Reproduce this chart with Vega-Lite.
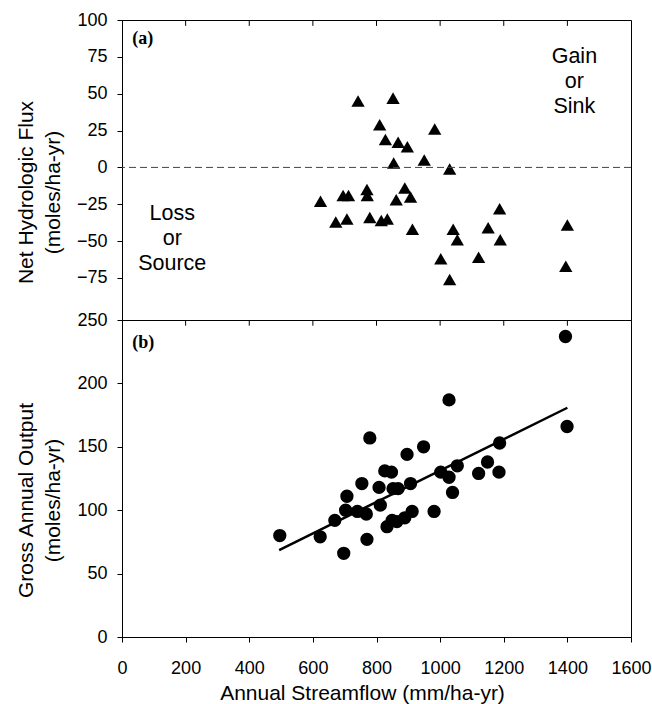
{
  "$schema": "https://vega.github.io/schema/vega-lite/v6.json",
  "padding": {"left": 14, "top": 10, "right": 0, "bottom": 8},
  "spacing": 0,
  "bounds": "flush",
  "config": {
    "view": {"stroke": null},
    "font": "Liberation Sans",
    "axis": {
      "grid": false,
      "domainColor": "black",
      "tickColor": "black",
      "labelColor": "black",
      "titleColor": "black",
      "labelFont": "Liberation Sans",
      "titleFont": "Liberation Sans",
      "labelFontSize": 18,
      "titleFontSize": 21,
      "titleFontWeight": "normal",
      "domainWidth": 1,
      "tickWidth": 1
    }
  },
  "datasets": {
    "topTicksA": [
      {"streamflow": 200, "from": 100, "to": 96},
      {"streamflow": 400, "from": 100, "to": 96},
      {"streamflow": 600, "from": 100, "to": 96},
      {"streamflow": 800, "from": 100, "to": 96},
      {"streamflow": 1000, "from": 100, "to": 96},
      {"streamflow": 1200, "from": 100, "to": 96},
      {"streamflow": 1400, "from": 100, "to": 96}
    ],
    "topTicksB": [
      {"streamflow": 200, "from": 250, "to": 245.5},
      {"streamflow": 400, "from": 250, "to": 245.5},
      {"streamflow": 600, "from": 250, "to": 245.5},
      {"streamflow": 800, "from": 250, "to": 245.5},
      {"streamflow": 1000, "from": 250, "to": 245.5},
      {"streamflow": 1200, "from": 250, "to": 245.5},
      {"streamflow": 1400, "from": 250, "to": 245.5}
    ],
    "flux": [
      {"streamflow": 742, "flux": 45},
      {"streamflow": 852, "flux": 47},
      {"streamflow": 810, "flux": 29},
      {"streamflow": 828, "flux": 19},
      {"streamflow": 868, "flux": 17},
      {"streamflow": 897, "flux": 14},
      {"streamflow": 854, "flux": 3},
      {"streamflow": 983, "flux": 26},
      {"streamflow": 950, "flux": 5},
      {"streamflow": 1030, "flux": -1},
      {"streamflow": 624, "flux": -23},
      {"streamflow": 695, "flux": -19},
      {"streamflow": 712, "flux": -19},
      {"streamflow": 770, "flux": -15},
      {"streamflow": 771, "flux": -19},
      {"streamflow": 862, "flux": -22},
      {"streamflow": 889, "flux": -14},
      {"streamflow": 907, "flux": -20},
      {"streamflow": 672, "flux": -37},
      {"streamflow": 707, "flux": -35},
      {"streamflow": 779, "flux": -34},
      {"streamflow": 815, "flux": -36},
      {"streamflow": 834, "flux": -35},
      {"streamflow": 913, "flux": -42},
      {"streamflow": 1041, "flux": -42},
      {"streamflow": 1054, "flux": -49},
      {"streamflow": 1151, "flux": -41},
      {"streamflow": 1187, "flux": -28},
      {"streamflow": 1189, "flux": -49},
      {"streamflow": 1002, "flux": -62},
      {"streamflow": 1121, "flux": -61},
      {"streamflow": 1030, "flux": -76},
      {"streamflow": 1400, "flux": -39},
      {"streamflow": 1395, "flux": -67}
    ],
    "output": [
      {"streamflow": 496, "output": 80},
      {"streamflow": 623, "output": 79},
      {"streamflow": 669, "output": 92},
      {"streamflow": 697, "output": 66},
      {"streamflow": 707, "output": 111},
      {"streamflow": 703, "output": 100},
      {"streamflow": 740, "output": 99},
      {"streamflow": 768, "output": 97},
      {"streamflow": 754, "output": 121},
      {"streamflow": 779, "output": 157},
      {"streamflow": 770, "output": 77},
      {"streamflow": 808, "output": 118},
      {"streamflow": 812, "output": 104},
      {"streamflow": 826, "output": 131},
      {"streamflow": 847, "output": 130},
      {"streamflow": 852, "output": 117},
      {"streamflow": 868, "output": 117},
      {"streamflow": 833, "output": 87},
      {"streamflow": 849, "output": 92},
      {"streamflow": 864, "output": 91},
      {"streamflow": 889, "output": 94},
      {"streamflow": 912, "output": 99},
      {"streamflow": 907, "output": 121},
      {"streamflow": 896, "output": 144},
      {"streamflow": 948, "output": 150},
      {"streamflow": 981, "output": 99},
      {"streamflow": 1002, "output": 130},
      {"streamflow": 1028, "output": 126},
      {"streamflow": 1028, "output": 187},
      {"streamflow": 1039, "output": 114},
      {"streamflow": 1054, "output": 135},
      {"streamflow": 1121, "output": 129},
      {"streamflow": 1149, "output": 138},
      {"streamflow": 1185, "output": 130},
      {"streamflow": 1187, "output": 153},
      {"streamflow": 1394, "output": 237},
      {"streamflow": 1399, "output": 166}
    ],
    "fit": [
      {"streamflow": 494, "output": 68.6},
      {"streamflow": 1400, "output": 180.8}
    ]
  },
  "vconcat": [
    {
      "width": 509,
      "height": 300,
      "view": {"stroke": "black", "strokeWidth": 1},
      "layer": [
        {
          "data": {"name": "flux"},
          "mark": {"type": "point", "shape": "triangle-up", "filled": true, "color": "black", "opacity": 1, "size": 177, "strokeWidth": 0},
          "encoding": {
            "x": {
              "field": "streamflow", "type": "quantitative",
              "scale": {"domain": [0, 1600], "nice": false},
              "axis": null
            },
            "y": {
              "field": "flux", "type": "quantitative",
              "scale": {"domain": [-103.5, 100], "nice": false},
              "axis": {
                "orient": "left",
                "values": [-75, -50, -25, 0, 25, 50, 75, 100],
                "tickSize": 5,
                "labelPadding": 10,
                "title": ["Net Hydrologic Flux", "(moles/ha-yr)"],
                "titleAngle": -90,
                "titleAlign": "center",
                "titleBaseline": "alphabetic",
                "titleLineHeight": 27,
                "titleX": -89.7,
                "titleY": 172
              }
            }
          }
        },
        {
          "data": {"values": [{"level": 0}]},
          "mark": {"type": "rule", "strokeDash": [7, 4], "color": "#444444", "strokeWidth": 1},
          "encoding": {
            "y": {"field": "level", "type": "quantitative", "scale": {"domain": [-103.5, 100], "nice": false}, "axis": null}
          }
        },
        {
          "data": {"name": "topTicksA"},
          "mark": {"type": "rule", "color": "black", "strokeWidth": 1},
          "encoding": {
            "x": {"field": "streamflow", "type": "quantitative", "scale": {"domain": [0, 1600], "nice": false}, "axis": null},
            "y": {"field": "from", "type": "quantitative", "scale": {"domain": [-103.5, 100], "nice": false}, "axis": null},
            "y2": {"field": "to"}
          }
        },
        {
          "data": {"values": [
            {"streamflow": 158, "flux": -36, "label": "Loss\nor\nSource"},
            {"streamflow": 1422, "flux": 71, "label": "Gain\nor\nSink"}
          ]},
          "mark": {"type": "text", "lineBreak": "\n", "align": "center", "baseline": "alphabetic", "fontSize": 21.5, "lineHeight": 25, "font": "Liberation Sans", "color": "black"},
          "encoding": {
            "x": {"field": "streamflow", "type": "quantitative", "scale": {"domain": [0, 1600], "nice": false}, "axis": null},
            "y": {"field": "flux", "type": "quantitative", "scale": {"domain": [-103.5, 100], "nice": false}, "axis": null},
            "text": {"field": "label"}
          }
        },
        {
          "data": {"values": [{"streamflow": 32, "flux": 84, "label": "(a)"}]},
          "mark": {"type": "text", "align": "left", "baseline": "alphabetic", "fontSize": 18, "font": "Liberation Serif", "fontWeight": "bold", "color": "black"},
          "encoding": {
            "x": {"field": "streamflow", "type": "quantitative", "scale": {"domain": [0, 1600], "nice": false}, "axis": null},
            "y": {"field": "flux", "type": "quantitative", "scale": {"domain": [-103.5, 100], "nice": false}, "axis": null},
            "text": {"field": "label"}
          }
        }
      ],
      "resolve": {"axis": {"x": "independent", "y": "independent"}}
    },
    {
      "width": 509,
      "height": 317,
      "view": {"stroke": "black", "strokeWidth": 1},
      "layer": [
        {
          "data": {"name": "output"},
          "mark": {"type": "point", "shape": "circle", "filled": true, "color": "black", "opacity": 1, "size": 177, "strokeWidth": 0},
          "encoding": {
            "x": {
              "field": "streamflow", "type": "quantitative",
              "scale": {"domain": [0, 1600], "nice": false},
              "axis": {
                "orient": "bottom",
                "values": [0, 200, 400, 600, 800, 1000, 1200, 1400, 1600],
                "format": "d",
                "tickSize": 5,
                "labelPadding": 17,
                "labelFlush": false,
                "labelOverlap": false,
                "title": "Annual Streamflow (mm/ha-yr)",
                "titleAlign": "center",
                "titleBaseline": "alphabetic",
                "titleX": 240,
                "titleY": 62
              }
            },
            "y": {
              "field": "output", "type": "quantitative",
              "scale": {"domain": [0, 250], "nice": false},
              "axis": {
                "orient": "left",
                "values": [0, 50, 100, 150, 200, 250],
                "tickSize": 5,
                "labelPadding": 10,
                "title": ["Gross Annual Output", "(moles/ha-yr)"],
                "titleAngle": -90,
                "titleAlign": "center",
                "titleBaseline": "alphabetic",
                "titleLineHeight": 27,
                "titleX": -89.7,
                "titleY": 180
              }
            }
          }
        },
        {
          "data": {"name": "topTicksB"},
          "mark": {"type": "rule", "color": "black", "strokeWidth": 1},
          "encoding": {
            "x": {"field": "streamflow", "type": "quantitative", "scale": {"domain": [0, 1600], "nice": false}, "axis": null},
            "y": {"field": "from", "type": "quantitative", "scale": {"domain": [0, 250], "nice": false}, "axis": null},
            "y2": {"field": "to"}
          }
        },
        {
          "data": {"name": "fit"},
          "mark": {"type": "line", "color": "black", "strokeWidth": 2.5},
          "encoding": {
            "x": {"field": "streamflow", "type": "quantitative", "scale": {"domain": [0, 1600], "nice": false}, "axis": null},
            "y": {"field": "output", "type": "quantitative", "scale": {"domain": [0, 250], "nice": false}, "axis": null}
          }
        },
        {
          "data": {"values": [{"streamflow": 32, "output": 228, "label": "(b)"}]},
          "mark": {"type": "text", "align": "left", "baseline": "alphabetic", "fontSize": 18, "font": "Liberation Serif", "fontWeight": "bold", "color": "black"},
          "encoding": {
            "x": {"field": "streamflow", "type": "quantitative", "scale": {"domain": [0, 1600], "nice": false}, "axis": null},
            "y": {"field": "output", "type": "quantitative", "scale": {"domain": [0, 250], "nice": false}, "axis": null},
            "text": {"field": "label"}
          }
        }
      ],
      "resolve": {"axis": {"x": "independent", "y": "independent"}}
    }
  ]
}
